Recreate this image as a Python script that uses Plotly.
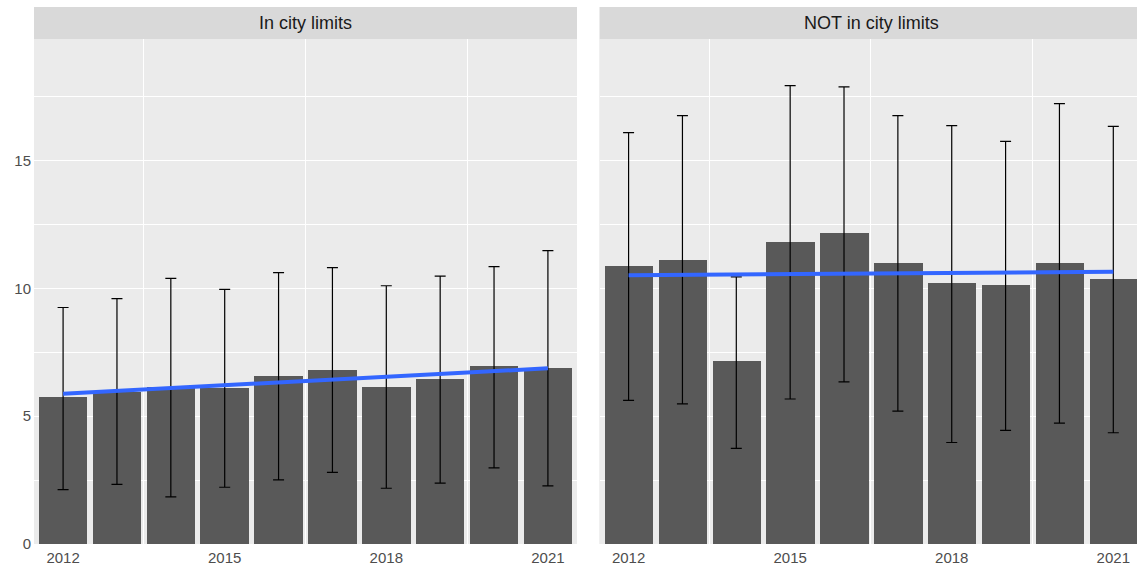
import plotly.graph_objects as go

years = [2012, 2013, 2014, 2015, 2016, 2017, 2018, 2019, 2020, 2021]

in_city_mean = [5.73, 5.93, 6.14, 6.12, 6.57, 6.81, 6.14, 6.44, 6.95, 6.90]
in_city_upper = [9.25, 9.60, 10.39, 9.96, 10.61, 10.81, 10.10, 10.48, 10.85, 11.47]
in_city_lower = [2.13, 2.33, 1.84, 2.22, 2.51, 2.80, 2.18, 2.38, 2.98, 2.27]
in_city_trend_x = [2012, 2021]
in_city_trend_y = [5.88, 6.87]

not_city_mean = [10.87, 11.11, 7.15, 11.82, 12.15, 10.98, 10.22, 10.13, 10.98, 10.36]
not_city_upper = [16.09, 16.75, 10.45, 17.93, 17.88, 16.75, 16.36, 15.75, 17.22, 16.33]
not_city_lower = [5.62, 5.48, 3.74, 5.67, 6.34, 5.20, 3.97, 4.44, 4.73, 4.35]
not_city_trend_x = [2012, 2021]
not_city_trend_y = [10.51, 10.65]

panel_titles = ["In city limits", "NOT in city limits"]
x_ticks = [2012, 2015, 2018, 2021]
y_ticks = [0, 5, 10, 15]

W, H = 1137, 569
ml, mr, mt, mb = 34, 0, 7, 25
pw = W - ml - mr
ph = H - mt - mb
left_dom = [0, (577 - ml) / pw]
right_dom = [(599.5 - ml) / pw, 1]
# the right panel is cropped at the figure edge (same width as the left one)
title_x = [(305.5 - ml) / pw, (871 - ml) / pw]
strip_h = 32
y_top = 1 - strip_h / ph

BAR = "#595959"
BLUE = "#3366FF"
FONT = "Liberation Sans, Arial, sans-serif"

fig = go.Figure()

panels = [
    (in_city_mean, in_city_upper, in_city_lower, in_city_trend_x, in_city_trend_y, "x", "y"),
    (not_city_mean, not_city_upper, not_city_lower, not_city_trend_x, not_city_trend_y, "x2", "y2"),
]
for mean, up, lo, tx, ty, xa, ya in panels:
    fig.add_trace(go.Bar(
        x=years, y=mean, width=0.9, marker=dict(color=BAR, line=dict(width=0)),
        xaxis=xa, yaxis=ya, showlegend=False, hoverinfo="skip"))
    fig.add_trace(go.Scatter(
        x=years, y=mean, mode="markers", marker=dict(size=0.1, color="rgba(0,0,0,0)"),
        error_y=dict(type="data", symmetric=False,
                     array=[u - m for u, m in zip(up, mean)],
                     arrayminus=[m - l for m, l in zip(mean, lo)],
                     color="black", thickness=1.2, width=5.5),
        xaxis=xa, yaxis=ya, showlegend=False, hoverinfo="skip"))
    fig.add_trace(go.Scatter(
        x=tx, y=ty, mode="lines", line=dict(color=BLUE, width=4),
        xaxis=xa, yaxis=ya, showlegend=False, hoverinfo="skip"))

xcommon = dict(tickvals=x_ticks, ticktext=[str(t) for t in x_ticks],
               showgrid=False,
               minor=dict(tickvals=[2013.5, 2016.5, 2019.5], showgrid=True, gridcolor="white", gridwidth=1.1),
               zeroline=False, showline=False, ticks="", ticklen=0, ticklabelstandoff=3,
               tickfont=dict(family=FONT, size=15, color="#4D4D4D"))
ycommon = dict(range=[0, 19.75], tickvals=y_ticks, domain=[0, y_top],
               showgrid=True, gridcolor="white", gridwidth=1.4,
               minor=dict(tickvals=[2.5, 7.5, 12.5, 17.5], showgrid=True, gridcolor="white", gridwidth=1.0),
               zeroline=False, showline=False, ticks="", ticklabelstandoff=2,
               tickfont=dict(family=FONT, size=15, color="#4D4D4D"))

fig.update_layout(
    width=W, height=H,
    margin=dict(l=ml, r=mr, t=mt, b=mb),
    paper_bgcolor="white", plot_bgcolor="#EBEBEB",
    bargap=0, barmode="overlay",
    xaxis=dict(xcommon, domain=left_dom, anchor="y", range=[2011.46, 2021.54]),
    xaxis2=dict(xcommon, domain=right_dom, anchor="y2", range=[2011.46, 2021.44]),
    yaxis=dict(ycommon, anchor="x"),
    yaxis2=dict(ycommon, anchor="x2", showticklabels=False),
)

# panel backgrounds and strips
for dom, tx, title in zip([left_dom, right_dom], title_x, panel_titles):
    fig.add_shape(type="rect", xref="paper", yref="paper", x0=dom[0], x1=dom[1],
                  y0=0, y1=y_top, fillcolor="#EBEBEB", line=dict(width=0), layer="below")
    fig.add_shape(type="rect", xref="paper", yref="paper", x0=dom[0], x1=dom[1],
                  y0=y_top, y1=1, fillcolor="#D9D9D9", line=dict(width=0))
    fig.add_annotation(xref="paper", yref="paper", x=tx, y=(y_top + 1) / 2,
                       text=title, showarrow=False, xanchor="center", yanchor="middle",
                       font=dict(family=FONT, size=18, color="#1A1A1A"))

fig.write_html("out.html", config={"displayModeBar": False},
               post_script="document.body.style.margin='0px';document.body.style.overflow='hidden';")
